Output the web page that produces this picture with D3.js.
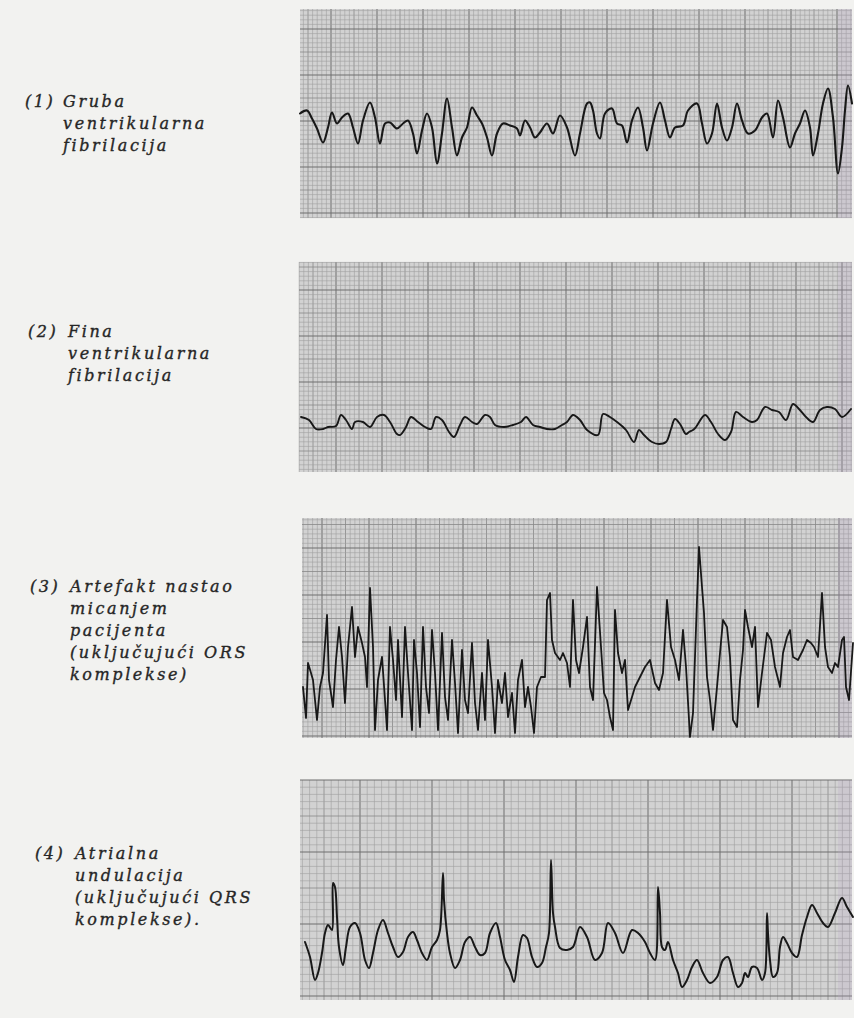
<!DOCTYPE html>
<html>
<head>
<meta charset="utf-8">
<script src="https://cdn.jsdelivr.net/npm/d3@7"></script>
<style>
  html, body { margin: 0; padding: 0; background: #f2f2f0; }
  svg { display: block; }
  .lbl { font-family: "DejaVu Serif", serif; font-style: italic; font-size: 16px; letter-spacing: 2.6px; fill: #262626; stroke: #262626; stroke-width: 0.35px; }
</style>
</head>
<body>
<div id="chart"></div>
<script>
// label text, one array per strip
var labelNums = ["(1)", "(2)", "(3)", "(4)"];
var labelLines = [
  ["Gruba", "ventrikularna", "fibrilacija"],
  ["Fina", "ventrikularna", "fibrilacija"],
  ["Artefakt nastao", "micanjem", "pacijenta", "(uključujući ORS", "komplekse)"],
  ["Atrialna", "undulacija", "(uključujući QRS", "komplekse)."]
];

// traces: [time, amplitude] in paper units
var trace1 = [[0,0],[7,3],[12,-5],[17,-15],[23,-29],[28,-14],[32,1],[37,-10],[42,-4],[48,0],[53,-14],[58,-30],[63,-7],[70,11],[75,-4],[80,-30],[85,-10],[90,-9],[97,-15],[103,-10],[108,-7],[113,-20],[117,-40],[122,-17],[127,0],[132,-14],[137,-50],[142,-20],[147,15],[152,-14],[157,-42],[162,-24],[167,-14],[172,6],[177,-2],[182,-10],[187,-24],[192,-42],[197,-20],[203,-10],[210,-12],[217,-15],[220,-22],[225,-7],[230,-14],[235,-24],[240,-19],[247,-10],[253,-20],[260,-2],[267,-14],[275,-42],[280,-20],[287,10],[290,11],[293,3],[297,-20],[300,-25],[305,0],[312,5],[317,-10],[322,-12],[327,-29],[332,-7],[338,6],[343,-14],[347,-37],[353,-10],[360,11],[365,-7],[370,-24],[375,-14],[383,-12],[388,3],[397,10],[402,-10],[407,-30],[412,-20],[417,10],[422,-14],[427,-27],[432,-14],[437,10],[442,-7],[448,-20],[455,-17],[462,-4],[467,0],[473,-24],[478,13],[483,-4],[490,-34],[495,-20],[500,-10],[505,3],[510,-14],[513,-42],[518,-20],[523,10],[528,25],[533,-4],[538,-60],[542,-34],[545,3],[548,28],[552,10]];

var trace2 = [[2,-50],[10,-53],[17,-62],[24,-62],[29,-60],[37,-59],[42,-48],[47,-53],[53,-62],[56,-55],[64,-55],[71,-60],[78,-50],[85,-48],[91,-55],[98,-67],[101,-68],[107,-60],[112,-50],[119,-55],[126,-60],[132,-62],[137,-50],[143,-53],[150,-65],[155,-70],[161,-58],[166,-50],[173,-55],[178,-57],[186,-48],[191,-50],[196,-58],[205,-60],[214,-58],[222,-55],[227,-50],[234,-58],[241,-60],[248,-62],[256,-62],[263,-58],[268,-55],[274,-48],[281,-53],[288,-63],[299,-68],[304,-47],[311,-50],[318,-55],[327,-63],[335,-75],[340,-63],[345,-68],[353,-75],[360,-77],[367,-75],[372,-62],[376,-52],[381,-57],[387,-67],[390,-65],[394,-63],[397,-60],[406,-48],[412,-55],[419,-67],[426,-73],[432,-65],[437,-45],[444,-50],[453,-55],[458,-53],[466,-40],[473,-43],[480,-45],[487,-53],[494,-37],[500,-42],[507,-50],[514,-55],[521,-43],[528,-40],[536,-42],[543,-50],[552,-42]];

var trace3 = [[1,-59],[4,-90],[6,-35],[9,-45],[11,-52],[15,-92],[18,-59],[21,-45],[25,13],[27,-52],[31,-79],[34,-32],[37,1],[40,-29],[43,-75],[46,-19],[50,21],[53,-29],[56,1],[60,-15],[63,-29],[65,-59],[68,40],[71,-19],[73,-102],[76,-52],[80,-29],[83,-72],[85,-102],[88,1],[91,-32],[94,-72],[96,-12],[100,-89],[103,1],[106,-45],[110,-102],[112,-12],[115,-45],[118,-99],[121,1],[124,-59],[127,-85],[130,-2],[133,-45],[136,-102],[140,-5],[143,-69],[146,-92],[150,-12],[153,-55],[156,-105],[160,-22],[163,-72],[166,-85],[170,-15],[173,-75],[176,-102],[180,-45],[183,-92],[186,-12],[190,-59],[193,-105],[196,-52],[200,-75],[203,-45],[206,-89],[210,-65],[213,-105],[216,-52],[220,-32],[223,-79],[226,-59],[229,-79],[232,-105],[235,-59],[239,-49],[243,-49],[245,28],[248,35],[250,-12],[253,-25],[258,-32],[261,-25],[265,-35],[268,-59],[271,28],[274,-32],[277,-45],[281,-19],[285,11],[288,-59],[291,-72],[295,41],[299,-19],[302,-65],[305,-72],[308,-89],[311,-102],[313,18],[316,-25],[320,-45],[323,-32],[326,-82],[330,-69],[333,-59],[338,-49],[343,-39],[348,-32],[353,-55],[357,-62],[361,-45],[365,28],[369,-19],[373,-32],[377,-52],[381,-2],[384,-39],[388,-109],[391,-85],[395,28],[397,81],[400,41],[402,15],[405,-49],[408,-72],[411,-102],[415,-59],[418,-25],[421,8],[425,1],[428,-29],[431,-92],[435,-99],[438,-52],[441,-22],[443,18],[446,1],[450,-19],[453,1],[456,-79],[460,-45],[462,-29],[465,-5],[469,-12],[473,-39],[478,-59],[481,-25],[485,-9],[488,-2],[491,-29],[496,-32],[501,-22],[505,-12],[509,-15],[512,-19],[516,-29],[520,35],[523,-19],[526,-39],[530,-45],[533,-35],[536,-39],[540,-12],[542,-9],[544,-59],[547,-72],[551,-15]];

var trace4 = [[5,-52],[10,-67],[15,-90],[18,-83],[22,-63],[25,-43],[28,-35],[32,-40],[33,7],[35,3],[37,-27],[39,-57],[43,-75],[46,-57],[50,-37],[55,-33],[60,-43],[65,-70],[69,-78],[73,-63],[78,-40],[83,-30],[88,-43],[93,-57],[98,-67],[103,-62],[108,-47],[113,-42],[117,-50],[122,-63],[127,-70],[132,-57],[137,-50],[140,-40],[143,17],[144,-10],[147,-43],[150,-63],[155,-78],[160,-70],[165,-52],[170,-47],[175,-57],[180,-65],[185,-63],[190,-43],[196,-33],[200,-47],[205,-70],[210,-80],[214,-92],[218,-67],[223,-45],[227,-48],[232,-67],[237,-77],[242,-73],[246,-57],[249,-43],[251,30],[253,-23],[255,-37],[260,-58],[267,-60],[273,-57],[280,-37],[287,-47],[295,-70],[302,-63],[308,-33],[315,-43],[323,-63],[332,-40],[338,-43],[345,-52],[350,-63],[355,-70],[358,3],[360,-23],[362,-57],[365,-60],[368,-52],[373,-70],[378,-83],[382,-97],[387,-90],[392,-77],[397,-70],[403,-83],[410,-93],[417,-87],[423,-70],[428,-67],[433,-83],[438,-97],[442,-93],[445,-83],[448,-87],[452,-77],[457,-78],[462,-90],[465,-83],[467,-23],[468,-43],[470,-70],[473,-87],[477,-83],[480,-57],[483,-47],[487,-53],[492,-63],[497,-67],[502,-45],[507,-27],[512,-15],[517,-23],[523,-33],[528,-37],[535,-23],[542,-8],[547,-17],[553,-27]];

var traces = [trace1, trace2, trace3, trace4];

// layout of each strip on the page
var strips = [
  {x0: 300, x1: 852, y0: 9,   y1: 218,  major: 46, phaseX: 31, phaseY: 20, numX: 25, textX: 63, base: 107, curve: "smooth", sw: 2.1},
  {x0: 299, x1: 852, y0: 262, y1: 472,  major: 46, phaseX: 37, phaseY: 28, numX: 28, textX: 68, base: 337, curve: "smooth", sw: 1.9},
  {x0: 302, x1: 852, y0: 518, y1: 738,  major: 47, phaseX: 20, phaseY: 30, numX: 30, textX: 70, base: 592, curve: "linear", sw: 1.8},
  {x0: 300, x1: 852, y0: 780, y1: 1000, major: 72, phaseX: 60, phaseY: 0,  numX: 35, textX: 75, base: 859, curve: "smooth", sw: 2.0}
];
var lineGap = 22;

var svg = d3.select("#chart").append("svg")
    .attr("width", 854)
    .attr("height", 1018);

strips.forEach(function(s, k) {
  var W = s.x1 - s.x0, H = s.y1 - s.y0;
  var x = d3.scaleLinear().domain([0, W]).range([s.x0, s.x1]);
  var y = d3.scaleLinear().domain([-H / 2, H / 2]).range([s.y1, s.y0]);

  var g = svg.append("g").attr("class", "strip");

  // paper
  g.append("rect")
      .attr("x", x(0)).attr("y", y(H / 2))
      .attr("width", x(W) - x(0)).attr("height", y(-H / 2) - y(H / 2))
      .attr("fill", "#d2d2d2");

  // grid: fine every major/10, medium every major/2
  var fine = s.major / 10;
  var vx = d3.range(Math.ceil(-s.phaseX / fine), Math.floor((W - s.phaseX) / fine) + 1);
  var hy = d3.range(Math.ceil(-s.phaseY / fine), Math.floor((H - s.phaseY) / fine) + 1);
  function gridColor(i) { return i % 10 === 0 ? "#6e6e6e" : (i % 5 === 0 ? "#888888" : "#a0a0a0"); }
  function gridWidth(i) { return i % 10 === 0 ? 1.0 : (i % 5 === 0 ? 0.8 : 0.6); }

  g.selectAll(".vgrid").data(vx).enter().append("line")
      .attr("x1", function(i) { return x(s.phaseX + i * fine); })
      .attr("x2", function(i) { return x(s.phaseX + i * fine); })
      .attr("y1", y(H / 2)).attr("y2", y(-H / 2))
      .attr("stroke", gridColor)
      .attr("stroke-width", gridWidth);

  g.selectAll(".hgrid").data(hy).enter().append("line")
      .attr("y1", function(i) { return y(H / 2 - (s.phaseY + i * fine)); })
      .attr("y2", function(i) { return y(H / 2 - (s.phaseY + i * fine)); })
      .attr("x1", x(0)).attr("x2", x(W))
      .attr("stroke", gridColor)
      .attr("stroke-width", gridWidth);

  // faint lilac tint at the right edge of the scan
  g.append("rect")
      .attr("x", x(W - 14)).attr("y", y(H / 2))
      .attr("width", x(W) - x(W - 14)).attr("height", y(-H / 2) - y(H / 2))
      .attr("fill", "#b8a2c6").attr("opacity", 0.22);

  // ecg trace
  var line = d3.line()
      .x(function(d) { return x(d[0]); })
      .y(function(d) { return y(d[1]); })
      .curve(s.curve === "smooth" ? d3.curveCatmullRom.alpha(0.5) : d3.curveLinear);

  g.append("path")
      .datum(traces[k])
      .attr("d", line)
      .attr("fill", "none")
      .attr("stroke", "#181818")
      .attr("stroke-width", s.sw)
      .attr("stroke-linejoin", "round")
      .attr("stroke-linecap", "round");

  // label
  svg.append("text")
      .attr("class", "lbl")
      .attr("x", s.numX).attr("y", s.base)
      .text(labelNums[k]);

  svg.selectAll(".l" + k).data(labelLines[k]).enter().append("text")
      .attr("class", "lbl l" + k)
      .attr("x", s.textX)
      .attr("y", function(d, i) { return s.base + i * lineGap; })
      .text(function(d) { return d; });
});
</script>
</body>
</html>
